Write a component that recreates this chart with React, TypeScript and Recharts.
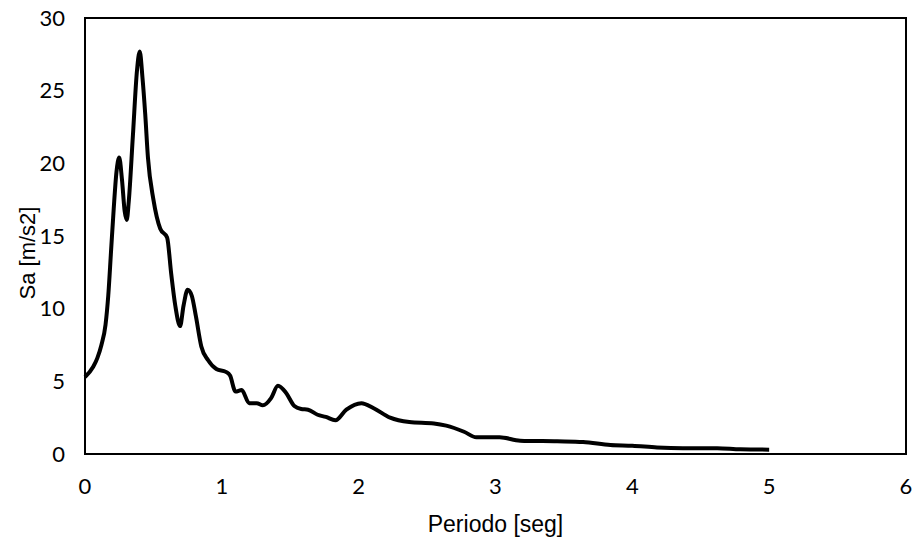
import { LineChart, Line, XAxis, YAxis, ReferenceArea, Label } from "recharts";

// Periodo [seg]
const periods = [
  0.0, 0.06, 0.09, 0.12, 0.15, 0.17, 0.19, 0.21, 0.23, 0.25, 0.27, 0.29, 0.305,
  0.32, 0.35, 0.38, 0.4, 0.42, 0.44, 0.46, 0.5, 0.55, 0.6, 0.63, 0.66, 0.695,
  0.72, 0.75, 0.78, 0.81, 0.85, 0.9, 0.96, 1.03, 1.06, 1.1, 1.145, 1.2, 1.255,
  1.3, 1.36, 1.41, 1.47, 1.53, 1.58, 1.63, 1.7, 1.76, 1.83, 1.91, 2.02, 2.11,
  2.23, 2.37, 2.55, 2.64, 2.77, 2.86, 3.03, 3.18, 3.45, 3.64, 3.84, 4.0, 4.18,
  4.37, 4.62, 4.79, 5.0,
];

// Sa [m/s2]
const sa = [
  5.3, 6.0, 6.6, 7.5, 8.9, 10.9, 13.9, 16.9, 19.4, 20.4, 18.9, 16.7, 16.1,
  17.4, 21.9, 26.4, 27.7, 25.9, 23.4, 20.4, 17.5, 15.5, 14.9, 12.4, 10.2, 8.8,
  10.2, 11.3, 10.9, 9.5, 7.4, 6.45, 5.85, 5.65, 5.4, 4.3, 4.4, 3.5, 3.5,
  3.35, 3.85, 4.7, 4.2, 3.3, 3.1, 3.05, 2.7, 2.55, 2.32, 3.05, 3.5, 3.15,
  2.5, 2.2, 2.1, 1.95, 1.53, 1.15, 1.15, 0.92, 0.87, 0.82, 0.62, 0.57, 0.45,
  0.4, 0.4, 0.32, 0.3,
];

const xTicks = [0, 1, 2, 3, 4, 5, 6];
const yTicks = [0, 5, 10, 15, 20, 25, 30];

const data = periods.map((t, i) => ({ t, sa: sa[i] }));

const tickStyle = { fill: "#000", fontSize: 22, fontFamily: "Lato, 'Open Sans', sans-serif" };
const titleFont = "'Liberation Sans', Arial, sans-serif";

export default function App() {
  return (
    <div style={{ position: "absolute", left: 0, top: 0, background: "#fff" }}>
      <LineChart width={916} height={541} data={data} margin={{ top: 18, right: 10, bottom: 0, left: 0 }}>
        <ReferenceArea x1={0} x2={6} y1={0} y2={30} fill="none" stroke="#000" strokeWidth={2} strokeOpacity={1} fillOpacity={0} />
        <XAxis
          dataKey="t"
          type="number"
          domain={[0, 6]}
          ticks={xTicks}
          height={87}
          tick={tickStyle}
          axisLine={{ stroke: "#000", strokeWidth: 2 }}
          tickLine={false}
          tickSize={0}
          tickMargin={24}
        >
          <Label
            content={({ viewBox }: any) => (
              <text x={viewBox.x + viewBox.width / 2} y={532} textAnchor="middle" fontSize={23} fontFamily={titleFont} fill="#000">
                Periodo [seg]
              </text>
            )}
          />
        </XAxis>
        <YAxis
          type="number"
          domain={[0, 30]}
          ticks={yTicks}
          width={85}
          tick={tickStyle}
          axisLine={{ stroke: "#000", strokeWidth: 2 }}
          tickLine={false}
          tickSize={0}
          tickMargin={20}
        >
          <Label
            content={() => (
              <text x={35} y={253} transform="rotate(-90, 35, 253)" textAnchor="middle" fontSize={22} fontFamily={titleFont} fill="#000">
                Sa [m/s2]
              </text>
            )}
          />
        </YAxis>
        <Line
          type="monotone"
          dataKey="sa"
          stroke="#000"
          strokeWidth={4}
          dot={false}
          isAnimationActive={false}
        />
      </LineChart>
    </div>
  );
}
